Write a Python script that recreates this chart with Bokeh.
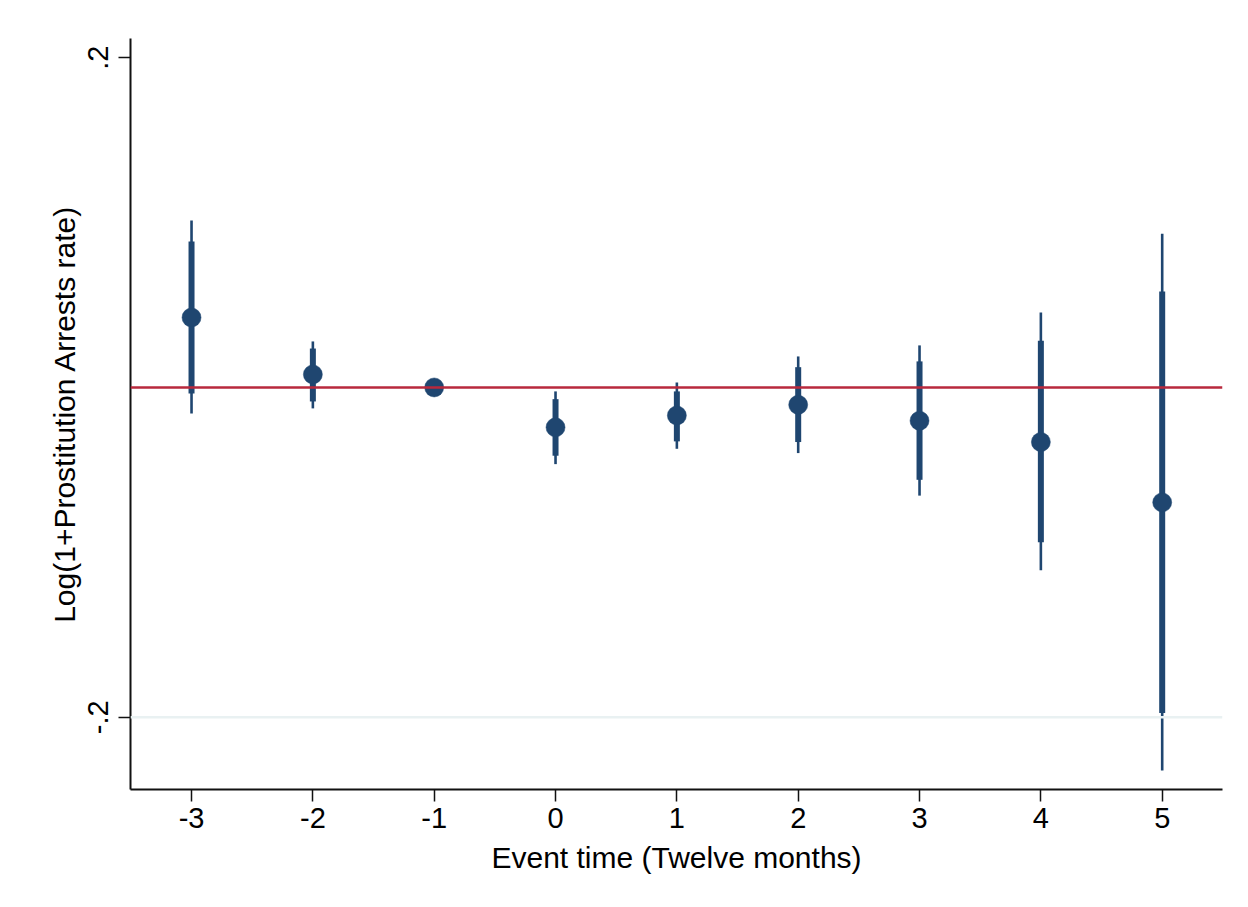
from bokeh.plotting import figure
from bokeh.models import Range1d, FixedTicker, Span
from bokeh.embed import file_html
from bokeh.resources import INLINE

# Data
event_time = [-3, -2, -1, 0, 1, 2, 3, 4, 5]
estimate   = [0.0424, 0.0079, 0.0, -0.0242, -0.0170, -0.0105, -0.0202, -0.0331, -0.0697]
ci90_low   = [-0.0036, -0.0085, 0.0, -0.0414, -0.0327, -0.0331, -0.0560, -0.0939, -0.1974]
ci90_high  = [0.0885, 0.0236, 0.0, -0.0071, -0.0024, 0.0123, 0.0158, 0.0283, 0.0582]
ci95_low   = [-0.0158, -0.0127, 0.0, -0.0465, -0.0372, -0.0398, -0.0656, -0.1109, -0.2323]
ci95_high  = [0.1012, 0.0279, 0.0, -0.0024, 0.0030, 0.0188, 0.0255, 0.0455, 0.0932]

x_ticks = [-3, -2, -1, 0, 1, 2, 3, 4, 5]
x_tick_labels = ["-3", "-2", "-1", "0", "1", "2", "3", "4", "5"]
y_ticks = [-0.2, 0.2]
y_tick_labels = ["-.2", ".2"]

NAVY = "#1f4670"
RED = "#b8293d"
FONT = "Liberation Sans"

p = figure(width=1240, height=899, output_backend="svg", toolbar_location=None,
           x_range=Range1d(-3.503, 5.497), y_range=Range1d(-0.2438, 0.2116),
           min_border_left=130, min_border_right=18, min_border_top=38,
           min_border_bottom=110)
p.outline_line_color = None
p.xgrid.visible = False
p.ygrid.visible = False
p.background_fill_color = "white"
p.border_fill_color = "white"

# Reference lines
p.add_layout(Span(location=-0.2, dimension="width", line_color="#e9f1f2", line_width=2.5))
p.add_layout(Span(location=0.0, dimension="width", line_color=RED, line_width=2.5))

# Confidence intervals
mask = [i for i, v in enumerate(event_time) if v != -1]
xs = [event_time[i] for i in mask]
p.segment(x0=xs, x1=xs, y0=[ci95_low[i] for i in mask], y1=[ci95_high[i] for i in mask],
          line_color=NAVY, line_width=2.6)
p.segment(x0=xs, x1=xs, y0=[ci90_low[i] for i in mask], y1=[ci90_high[i] for i in mask],
          line_color=NAVY, line_width=6)
p.scatter(x=event_time, y=estimate, size=19, fill_color=NAVY, line_color=NAVY, line_width=0.5)

# Axes
for ax in (p.xaxis[0], p.yaxis[0]):
    ax.axis_line_color = "#111111"
    ax.axis_line_width = 2
    ax.major_tick_line_color = "#111111"
    ax.major_tick_line_width = 1.5
    ax.major_tick_out = 12
    ax.major_tick_in = 0
    ax.minor_tick_line_color = None
    ax.major_label_text_font = FONT
    ax.major_label_text_font_size = "29px"
    ax.major_label_text_color = "#000000"
    ax.axis_label_text_font = FONT
    ax.axis_label_text_font_size = "30px"
    ax.axis_label_text_font_style = "normal"
    ax.axis_label_text_color = "#000000"

p.xaxis.ticker = FixedTicker(ticks=x_ticks)
p.xaxis.major_label_overrides = dict(zip(x_ticks, x_tick_labels))
p.xaxis.axis_label = "Event time (Twelve months)"
p.xaxis.major_label_standoff = 6
p.xaxis.axis_label_standoff = 10

p.yaxis.ticker = FixedTicker(ticks=y_ticks)
p.yaxis.major_label_overrides = dict(zip(y_ticks, y_tick_labels))
p.yaxis.major_label_orientation = "vertical"
p.yaxis.axis_label = "Log(1+Prostitution Arrests rate)"
p.yaxis.major_label_standoff = 10
p.yaxis.axis_label_standoff = 5

open("out.html", "w").write(file_html(p, INLINE))
